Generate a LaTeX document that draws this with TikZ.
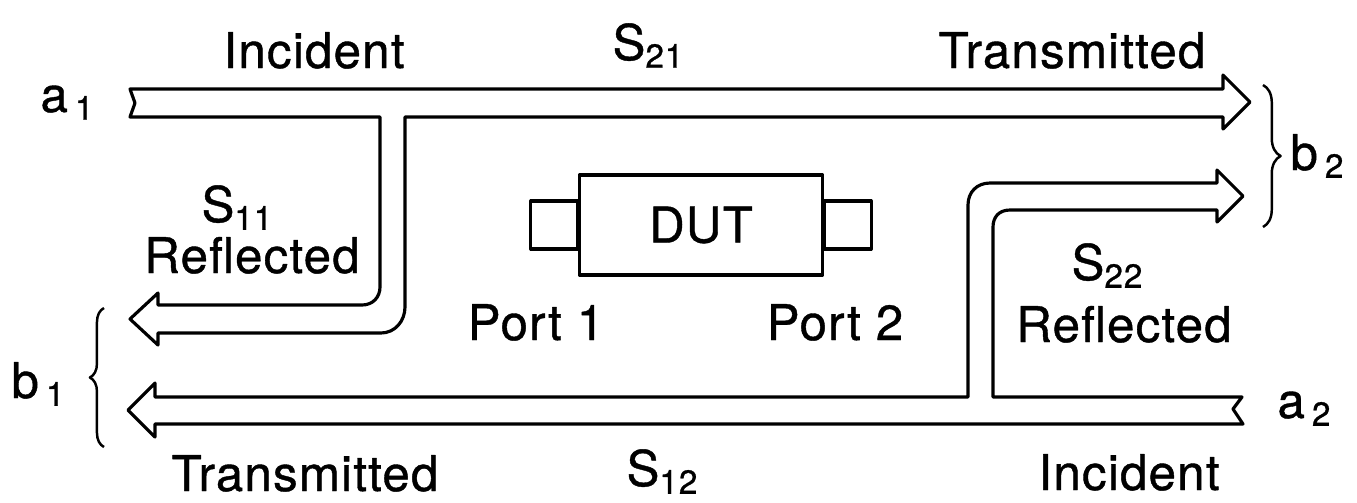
\documentclass[tikz,border=0pt]{standalone}
\usepackage{fontspec}
\setmainfont{TeX Gyre Heros}[LetterSpace=2.5, FakeBold=0.8]
\usetikzlibrary{decorations.pathreplacing}
\newcommand{\subidx}[1]{\raisebox{-2.2pt}{\fontsize{9.5}{9.5}\selectfont #1}}

\begin{document}
\begin{tikzpicture}[x=0.01cm, y=-0.01cm, line width=0.9pt, line join=round,
  font=\fontsize{14}{16}\selectfont,
  lbl/.style={anchor=base, inner sep=0pt},
  brc/.style={decorate, decoration={brace, amplitude=#1}, line width=0.7pt}, brc/.default=4pt]
\useasboundingbox (0,0) rectangle (1357,502);
% port 1 side: incident a1, transmitted b2 and reflected b1
\draw (130,89) -- (1223,89) -- (1223,75) -- (1250,102) -- (1223,129) -- (1223,117)
  -- (405,117) -- (405,307) .. controls (405,321) and (395,333) .. (381,333) -- (158,333) -- (158,345)
  -- (130,319) -- (158,293) -- (158,305) -- (362,305) .. controls (373,305) and (380,297) .. (380,287)
  -- (380,117) -- (130,117) -- (135,103) -- cycle;
% port 2 side: incident a2, transmitted b1 and reflected b2
\draw (1242,397) -- (993,397) -- (993,227) .. controls (993,217) and (999,210) .. (1010,210) -- (1217,210)
  -- (1217,222) -- (1243,196) -- (1217,170) -- (1217,183) -- (990,183)
  .. controls (977,183) and (968,192) .. (968,205) -- (968,397) -- (155,397) -- (155,383) -- (128,410)
  -- (155,437) -- (155,424) -- (1243,424) -- (1233,409) -- cycle;
% device
\node[draw, minimum width=2.43cm, minimum height=1cm, inner sep=0pt] (dut) at (701,225) {DUT};
\draw (dut.west) ++(0,-24) rectangle ++(-47,48);
\draw (dut.east) ++(0,-24) rectangle ++(47,48);
% braces
\draw[brc=4pt] (104,447) -- (104,308);
\draw[brc=5pt] (1263,85) -- (1263,227);
% labels
\node[lbl] (inctop) at (314,68) {Incident};
\node[lbl] (stwoone) at (648,60) {S\subidx{21}};
\node[lbl] (trtop) at (1072,68) {Transmitted};
\node[lbl] (aone) at (67,112) {a\kern2pt\subidx{1}};
\node[lbl] (btwo) at (1317,170) {b\kern2pt\subidx{2}};
\node[lbl] (soneone) at (237,222) {S\subidx{11}};
\node[lbl] (refone) at (252,273) {Reflected};
\node[lbl] (portone) at (536,340) {Port 1};
\node[lbl] (porttwo) at (835,340) {Port 2};
\node[lbl] (stwotwo) at (1107,280) {S\subidx{22}};
\node[lbl] (reftwo) at (1124,342) {Reflected};
\node[lbl] (bone) at (38,398) {b\kern2pt\subidx{1}};
\node[lbl] (atwo) at (1304,418) {a\kern2pt\subidx{2}};
\node[lbl] (trbot) at (305,491) {Transmitted};
\node[lbl] (sonetwo) at (662,486) {S\subidx{12}};
\node[lbl] (incbot) at (1129,490) {Incident};
\end{tikzpicture}
\end{document}
